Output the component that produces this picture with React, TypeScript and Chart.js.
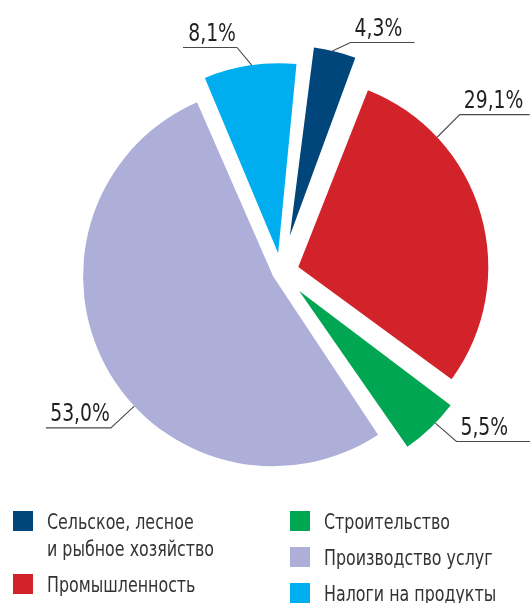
import React, { useEffect, useRef } from 'react';
import { Chart, registerables } from 'chart.js';

Chart.register(...registerables);

const categories: string[] = [
  'Сельское, лесное\nи рыбное хозяйство',
  'Промышленность',
  'Строительство',
  'Производство услуг',
  'Налоги на продукты',
];
const shares: number[] = [4.3, 29.1, 5.5, 53.0, 8.1];
const colors: string[] = ['#00467a', '#d2232b', '#00a651', '#adafd8', '#00aeef'];
// explode distance (px) of every slice
const explode: number[] = [37, 18, 26, 9, 19];
// label leader styling: fraction along slice, leader direction (deg clockwise from up), leader length, side, underline length
const labelStyle = [
  { frac: 0.45, dir: 65, len: 20, side: 1, line: 64 },
  { frac: 0.243, dir: 45, len: 32, side: 1, line: 70 },
  { frac: 0.4, dir: 131, len: 28, side: 1, line: 76 },
  { frac: 0.424, dir: 227, len: 32, side: -1, line: 65 },
  { frac: 0.52, dir: 320, len: 23, side: -1, line: 54 },
];
const leftColumn = [0, 1];
const rightColumn = [2, 3, 4];

const FONT = "'DejaVu Sans Condensed', 'DejaVu Sans', sans-serif";
const LABEL_SQUEEZE = 0.87;
const LEGEND_SQUEEZE = 0.84;

const radiusFix = {
  id: 'radiusFix',
  afterDatasetsUpdate(chart: any) {
    const meta = chart.getDatasetMeta(0);
    meta.data.forEach((el: any) => {
      const t = ((el.options && el.options.offset) || 0) / 4;
      const fix = 1 - Math.sin(Math.min(Math.PI, el.circumference || 0));
      el.outerRadius = el.outerRadius - t * fix;
    });
  },
};

const leaderLabels = {
  id: 'leaderLabels',
  afterDatasetsDraw(chart: any) {
    const ctx = chart.ctx;
    const meta = chart.getDatasetMeta(0);
    ctx.save();
    meta.data.forEach((el: any, i: number) => {
      const st = labelStyle[i];
      const t = ((el.options && el.options.offset) || 0) / 4;
      const fix = 1 - Math.sin(Math.min(Math.PI, el.circumference || 0));
      const R = el.outerRadius + t * fix;
      const half = (el.startAngle + el.endAngle) / 2;
      const cx = el.x + Math.cos(half) * t;
      const cy = el.y + Math.sin(half) * t;
      const a = el.startAngle + st.frac * (el.endAngle - el.startAngle);
      const x0 = cx + Math.cos(a) * R;
      const y0 = cy + Math.sin(a) * R;
      const d = (st.dir * Math.PI) / 180;
      const x1 = x0 + Math.sin(d) * st.len;
      const y1 = y0 - Math.cos(d) * st.len;
      const x2 = x1 + st.side * st.line;
      ctx.strokeStyle = '#4a4a4a';
      ctx.lineWidth = 1.1;
      ctx.beginPath();
      ctx.moveTo(x0, y0);
      ctx.lineTo(x1, y1);
      ctx.lineTo(x2, y1);
      ctx.stroke();
      const txt = shares[i].toFixed(1).replace('.', ',') + '%';
      ctx.save();
      ctx.fillStyle = '#231f20';
      ctx.font = `24px ${FONT}`;
      ctx.textBaseline = 'alphabetic';
      const tx = st.side > 0 ? x1 + 4 : x1 - 1;
      ctx.translate(tx, y1 - 6.5);
      ctx.scale(LABEL_SQUEEZE, 1);
      ctx.textAlign = st.side > 0 ? 'left' : 'right';
      ctx.fillText(txt, 0, 0);
      ctx.restore();
    });
    ctx.restore();
  },
};

function LegendItem({ idx }: { idx: number }) {
  return (
    <div style={{ display: 'flex', alignItems: 'flex-start' }}>
      <div
        style={{
          width: 20,
          height: 20,
          marginTop: 1.7,
          background: colors[idx],
          flex: '0 0 auto',
        }}
      />
      <div
        style={{
          marginLeft: 14,
          whiteSpace: 'pre-line',
          transform: `scaleX(${LEGEND_SQUEEZE})`,
          transformOrigin: 'left center',
        }}
      >
        {categories[idx]}
      </div>
    </div>
  );
}

export default function App() {
  const canvasRef = useRef<HTMLCanvasElement | null>(null);

  useEffect(() => {
    if (!canvasRef.current) return;
    const chart = new Chart(canvasRef.current, {
      type: 'pie',
      data: {
        labels: categories.map((c) => c.replace('\n', ' ')),
        datasets: [
          {
            data: shares,
            backgroundColor: colors,
            borderWidth: 0,
            offset: explode.map((e) => e * 4),
            radius: 190,
          } as any,
        ],
      },
      options: {
        responsive: false,
        animation: false,
        events: [],
        rotation: 6,
        layout: { padding: { left: 32, bottom: 59, top: 0, right: 0 } },
        plugins: {
          legend: { display: false },
          tooltip: { enabled: false },
        },
      },
      plugins: [radiusFix, leaderLabels],
    });
    return () => chart.destroy();
  }, []);

  const textStyle: React.CSSProperties = {
    fontFamily: FONT,
    fontSize: 21,
    lineHeight: '27px',
    color: '#333333',
  };

  return (
    <div
      style={{
        position: 'fixed',
        left: 0,
        top: 0,
        width: 530,
        height: 603,
        overflow: 'hidden',
        background: '#ffffff',
      }}
    >
      <canvas
        ref={canvasRef}
        width={530}
        height={603}
        style={{ position: 'absolute', left: 0, top: 0, width: 530, height: 603 }}
      />
      <div
        style={{
          ...textStyle,
          position: 'absolute',
          left: 13,
          top: 509.3,
          display: 'flex',
          flexDirection: 'column',
          gap: 9,
        }}
      >
        {leftColumn.map((i) => (
          <LegendItem key={i} idx={i} />
        ))}
      </div>
      <div
        style={{
          ...textStyle,
          position: 'absolute',
          left: 290,
          top: 509.3,
          display: 'flex',
          flexDirection: 'column',
          gap: 9,
        }}
      >
        {rightColumn.map((i) => (
          <LegendItem key={i} idx={i} />
        ))}
      </div>
    </div>
  );
}
